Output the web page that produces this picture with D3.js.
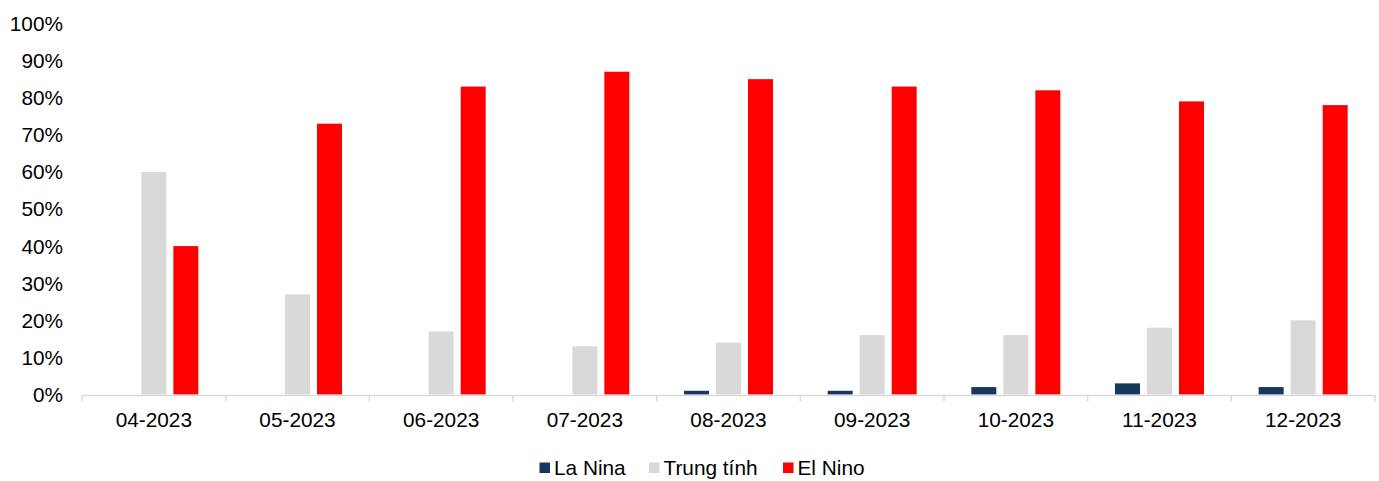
<!DOCTYPE html>
<html>
<head>
<meta charset="utf-8">
<script src="https://cdn.jsdelivr.net/npm/d3@7"></script>
<style>
  html, body { margin: 0; padding: 0; background: #ffffff; }
  svg { display: block; font-family: "Liberation Sans", Arial, sans-serif; }
</style>
</head>
<body>
<svg id="chart" width="1379" height="481"></svg>
<script>
// ENSO outlook by month (probability, %)
const months = ["04-2023", "05-2023", "06-2023", "07-2023", "08-2023", "09-2023", "10-2023", "11-2023", "12-2023"];
const seriesNames = ["La Nina", "Trung tính", "El Nino"];
const laNina   = [0, 0, 0, 0, 1, 1, 2, 3, 2];
const neutral  = [60, 27, 17, 13, 14, 16, 16, 18, 20];
const elNino   = [40, 73, 83, 87, 85, 83, 82, 79, 78];
const yTicks   = [0, 10, 20, 30, 40, 50, 60, 70, 80, 90, 100];
const colors   = ["#17375e", "#d9d9d9", "#ff0000"];

const seriesValues = [laNina, neutral, elNino];

const svg = d3.select("#chart");
const fontSize = 20.8;

const x = d3.scaleBand().domain(months).range([82, 1375]).paddingInner(0).paddingOuter(0);
const inner = d3.scaleBand().domain(seriesNames)
  .range([x.bandwidth() / 2 - 44.5, x.bandwidth() / 2 + 44.5])
  .paddingInner(0.219).paddingOuter(0);
const y = d3.scaleLinear().domain([0, 100]).range([394.5, 23.5]);

// Bars
const groups = svg.append("g").selectAll("g")
  .data(months)
  .join("g")
  .attr("transform", d => `translate(${x(d)},0)`);

groups.selectAll("rect")
  .data((m, i) => seriesNames.map((s, k) => ({ s, v: seriesValues[k][i], c: colors[k] })))
  .join("rect")
  .attr("x", d => inner(d.s))
  .attr("width", inner.bandwidth())
  .attr("y", d => y(d.v))
  .attr("height", d => y(0) - y(d.v))
  .attr("fill", d => d.c);

// Category axis (ticks at category boundaries)
const axisY = 395.5;
svg.append("line")
  .attr("x1", x.range()[0]).attr("x2", x.range()[1])
  .attr("y1", axisY).attr("y2", axisY)
  .attr("stroke", "#d9d9d9").attr("stroke-width", 1.5);

const boundaries = months.map(m => x(m)).concat([x.range()[1]]);
svg.append("g").selectAll("line")
  .data(boundaries)
  .join("line")
  .attr("x1", d => d).attr("x2", d => d)
  .attr("y1", axisY).attr("y2", axisY + 6)
  .attr("stroke", "#d9d9d9").attr("stroke-width", 1.5);

svg.append("g").selectAll("text")
  .data(months)
  .join("text")
  .attr("x", d => x(d) + x.bandwidth() / 2)
  .attr("y", 426.5)
  .attr("text-anchor", "middle")
  .attr("font-size", fontSize)
  .attr("fill", "#000")
  .text(d => d);

// Value axis labels
svg.append("g").selectAll("text")
  .data(yTicks)
  .join("text")
  .attr("x", 63)
  .attr("y", d => y(d))
  .attr("dy", "0.36em")
  .attr("text-anchor", "end")
  .attr("font-size", fontSize)
  .attr("fill", "#000")
  .text(d => d + "%");

// Legend
const legendItems = [
  { name: seriesNames[0], c: colors[0], x: 539.5 },
  { name: seriesNames[1], c: colors[1], x: 649 },
  { name: seriesNames[2], c: colors[2], x: 783 }
];
const lg = svg.append("g").selectAll("g")
  .data(legendItems)
  .join("g")
  .attr("transform", d => `translate(${d.x},0)`);
lg.append("rect")
  .attr("x", 0).attr("y", 462.5)
  .attr("width", 10.5).attr("height", 10.5)
  .attr("fill", d => d.c);
lg.append("text")
  .attr("x", 14.5).attr("y", 475)
  .attr("font-size", fontSize)
  .attr("fill", "#000")
  .text(d => d.name);
</script>
</body>
</html>
